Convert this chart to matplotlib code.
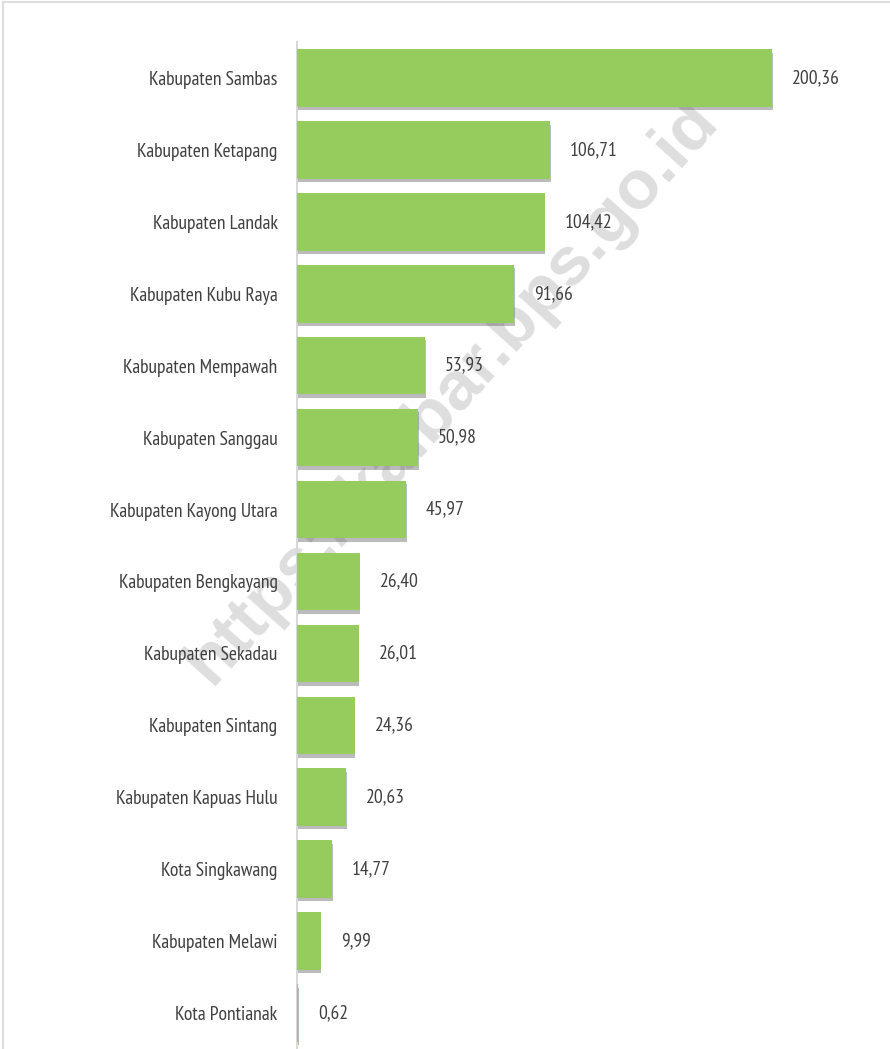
import matplotlib as mpl
mpl.use('Agg')
from matplotlib import pyplot as plt
from matplotlib import patheffects
from matplotlib.lines import Line2D

regions = ['Kabupaten Sambas', 'Kabupaten Ketapang', 'Kabupaten Landak', 'Kabupaten Kubu Raya',
           'Kabupaten Mempawah', 'Kabupaten Sanggau', 'Kabupaten Kayong Utara', 'Kabupaten Bengkayang',
           'Kabupaten Sekadau', 'Kabupaten Sintang', 'Kabupaten Kapuas Hulu', 'Kota Singkawang',
           'Kabupaten Melawi', 'Kota Pontianak']
values = [200.36, 106.71, 104.42, 91.66, 53.93, 50.98, 45.97, 26.40, 26.01, 24.36, 20.63, 14.77, 9.99, 0.62]

plt.rcParams['font.family'] = ['PT Sans Narrow', 'DejaVu Sans']

fig = plt.figure(figsize=(8.9, 10.49), dpi=100)
ax = fig.add_axes([297/890, 0, 1 - 297/890, 1 - 42/1049])
ax.set_zorder(1)

# watermark, behind the bars
fig.text(0.508, 0.626, 'https://kalbar.bps.go.id', fontsize=50, fontweight='bold',
         family='Liberation Sans', color='#dedede', rotation=48, ha='center', va='center', zorder=0)

pos = list(range(len(regions)))
shadow = [patheffects.SimplePatchShadow(offset=(0.5, -2.5), shadow_rgbFace='#555555', alpha=0.4),
          patheffects.Normal()]
bars = ax.barh(pos, values, height=0.8, color='#96cb5e', zorder=3)
for b in bars:
    b.set_path_effects(shadow)

for p, v in zip(pos, values):
    ax.annotate(f'{v:.2f}'.replace('.', ','), (v, p), xytext=(20, 0), textcoords='offset pixels',
                va='center', ha='left', fontsize=14, color='#404040')

ax.set_ylim(13.5, -0.5)
ax.set_xlim(0, 250)
ax.set_yticks(pos)
ax.set_yticklabels(regions, fontsize=14, color='#404040')
ax.tick_params(axis='y', length=0, pad=14)
ax.set_xticks([])
for s in ['top', 'right', 'bottom']:
    ax.spines[s].set_visible(False)
ax.spines['left'].set_color('#d9d9d9')
ax.spines['left'].set_linewidth(1.5)
ax.patch.set_visible(False)

# thin frame along the top and left edge
fig.add_artist(Line2D([3/890, 1], [1 - 2/1049, 1 - 2/1049], color='#dedede', lw=1.5))
fig.add_artist(Line2D([3/890, 3/890], [0, 1 - 2/1049], color='#dedede', lw=1.5))

fig.savefig('out.png', dpi=100)
